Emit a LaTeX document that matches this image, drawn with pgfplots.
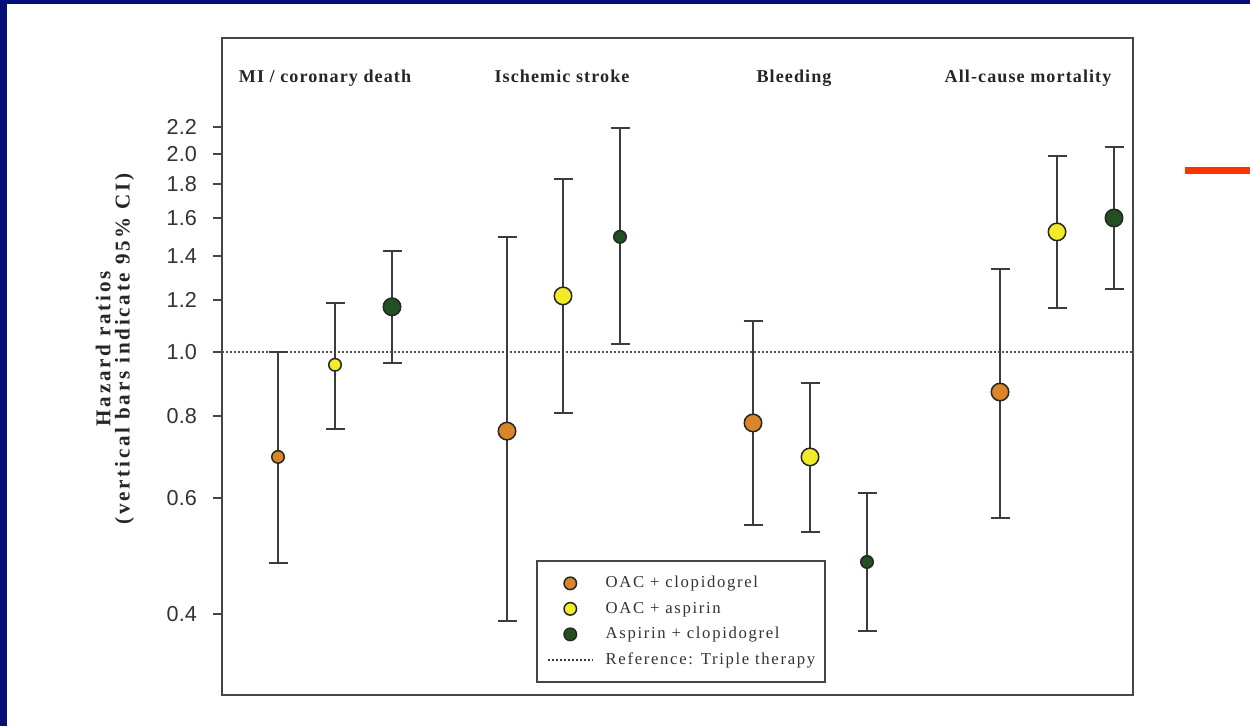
\documentclass[border=0pt]{standalone}
\usepackage{fontspec}
\setmainfont{Liberation Serif}
\newfontfamily\ticksf{Liberation Sans}
\newfontfamily\titlef[LetterSpace=6]{Liberation Serif}
\newfontfamily\legf[LetterSpace=10]{Liberation Serif}
\newfontfamily\ylabf[LetterSpace=13]{Liberation Serif}
\usepackage{pgfplots}
\usepackage{pgfplotstable}
\pgfplotsset{compat=1.18}
\definecolor{cOr}{RGB}{217,133,40}
\definecolor{cYe}{RGB}{242,236,40}
\definecolor{cGr}{RGB}{35,80,35}
\definecolor{cBar}{RGB}{60,60,60}
\definecolor{cAx}{RGB}{70,70,70}
\definecolor{cNavy}{RGB}{5,15,120}
\definecolor{cRed}{RGB}{255,50,0}

% x = horizontal position (px), y = hazard ratio, lo/hi = 95% CI, s = marker radius (cm)
\pgfplotstableread{
x y lo hi s
278 0.6925 0.478 1.000 0.125
507 0.758 0.390 1.496 0.175
753 0.780 0.546 1.115 0.175
1000 0.869 0.559 1.337 0.175
}\tOr
\pgfplotstableread{
x y lo hi s
335 0.956 0.764 1.187 0.125
563 1.2165 0.808 1.832 0.175
810 0.6925 0.5326 0.897 0.175
1057 1.522 1.1665 1.986 0.175
}\tYe
\pgfplotstableread{
x y lo hi s
392 1.171 0.962 1.424 0.175
620 1.496 1.028 2.190 0.125
867 0.4795 0.3766 0.6105 0.125
1114 1.598 1.247 2.049 0.175
}\tGr

\pgfplotsset{
  cibar/.style={draw=none, mark=none, forget plot,
    error bars/.cd, y dir=both, y explicit,
    error bar style={cBar, line width=0.04cm},
    error mark options={cBar, line width=0.04cm, rotate=90, mark size=0.19cm}},
  pts/.style={scatter, only marks, mark=*, forget plot,
    point meta=\thisrow{s},
    scatter/use mapped color={draw=black!85, fill=#1, line width=0.03cm},
    visualization depends on={\thisrow{s} \as \ms},
    scatter/@pre marker code/.append style={/tikz/mark size=\ms cm}},
}

\begin{document}
\begin{tikzpicture}
\useasboundingbox (0,0) rectangle (25,14.52);
\fill[white] (0,0) rectangle (25,14.52);
\fill[cNavy] (0,0) rectangle (0.14,14.52);
\fill[cNavy] (0,14.44) rectangle (25,14.52);
\fill[cRed] (23.7,11.04) rectangle (25,11.18);
\begin{axis}[
  at={(4.44cm,0.62cm)}, anchor=south west,
  scale only axis, width=18.22cm, height=13.14cm,
  xmin=222, xmax=1133,
  ymode=log, ymin=0.301, ymax=3.0,
  xtick=\empty,
  ytick={0.4,0.6,0.8,1.0,1.2,1.4,1.6,1.8,2.0,2.2},
  yticklabels={0.4,0.6,0.8,1.0,1.2,1.4,1.6,1.8,2.0,2.2},
  minor ytick={},
  ytick pos=left,
  tick align=outside,
  major tick length=0.18cm,
  tick style={cAx, line width=0.04cm},
  yticklabel style={font=\ticksf\fontsize{12.3}{14}\selectfont, text=black!80, xshift=-0.2cm},
  axis line style={cAx, line width=0.05cm},
  clip=false,
  legend image code/.code={\draw[mark repeat=2,mark phase=2,#1] plot coordinates {(0cm,0cm) (0.45cm,0cm) (0.9cm,0cm)};},
  legend cell align=left,
  legend style={at={(0.3447,0.2055)}, anchor=north west, draw=cAx, line width=0.035cm,
    font=\legf\fontsize{9.5}{11}\selectfont, text=black!80,
    inner xsep=0.2cm, inner ysep=0.29cm,
    nodes={inner sep=0pt, text height=0.25cm, text depth=0.07cm},
    /tikz/every odd column/.append style={column sep=0.24cm},
    row sep=0.19cm},
]
\addlegendimage{only marks, mark=*, mark size=0.125cm, mark options={draw=black!85, fill=cOr, line width=0.03cm}}
\addlegendentry{OAC + clopidogrel}
\addlegendimage{only marks, mark=*, mark size=0.125cm, mark options={draw=black!85, fill=cYe, line width=0.03cm}}
\addlegendentry{OAC + aspirin}
\addlegendimage{only marks, mark=*, mark size=0.125cm, mark options={draw=black!85, fill=cGr, line width=0.03cm}}
\addlegendentry{Aspirin + clopidogrel}
\addlegendimage{cBar, line width=0.035cm, dash pattern=on 0.04cm off 0.04cm}
\addlegendentry{Reference: Triple therapy}

% reference line
\addplot[cBar!90, line width=0.035cm, dash pattern=on 0.04cm off 0.04cm, forget plot] coordinates {(222,1) (1133,1)};

\addplot[cibar] table[x=x, y=y, y error plus expr=\thisrow{hi}-\thisrow{y}, y error minus expr=\thisrow{y}-\thisrow{lo}] {\tOr};
\addplot[cibar] table[x=x, y=y, y error plus expr=\thisrow{hi}-\thisrow{y}, y error minus expr=\thisrow{y}-\thisrow{lo}] {\tYe};
\addplot[cibar] table[x=x, y=y, y error plus expr=\thisrow{hi}-\thisrow{y}, y error minus expr=\thisrow{y}-\thisrow{lo}] {\tGr};

\addplot[pts=cOr] table[x=x, y=y] {\tOr};
\addplot[pts=cYe] table[x=x, y=y] {\tYe};
\addplot[pts=cGr] table[x=x, y=y] {\tGr};

\node[font=\titlef\bfseries\fontsize{10.3}{12}\selectfont, anchor=base, text=black!85] at (axis cs:325,2.564) {MI / coronary death};
\node[font=\titlef\bfseries\fontsize{10.3}{12}\selectfont, anchor=base, text=black!85] at (axis cs:562,2.564) {Ischemic stroke};
\node[font=\titlef\bfseries\fontsize{10.3}{12}\selectfont, anchor=base, text=black!85] at (axis cs:794,2.564) {Bleeding};
\node[font=\titlef\bfseries\fontsize{10.3}{12}\selectfont, anchor=base, text=black!85] at (axis cs:1028,2.564) {All-cause mortality};

\node[rotate=90, align=center, font=\ylabf\bfseries\fontsize{12}{11}\selectfont, text=black!85, anchor=center]
  at (axis description cs:-0.1175,0.527) {Hazard ratios\\(vertical bars indicate 95\% CI)};
\end{axis}
\end{tikzpicture}
\end{document}
